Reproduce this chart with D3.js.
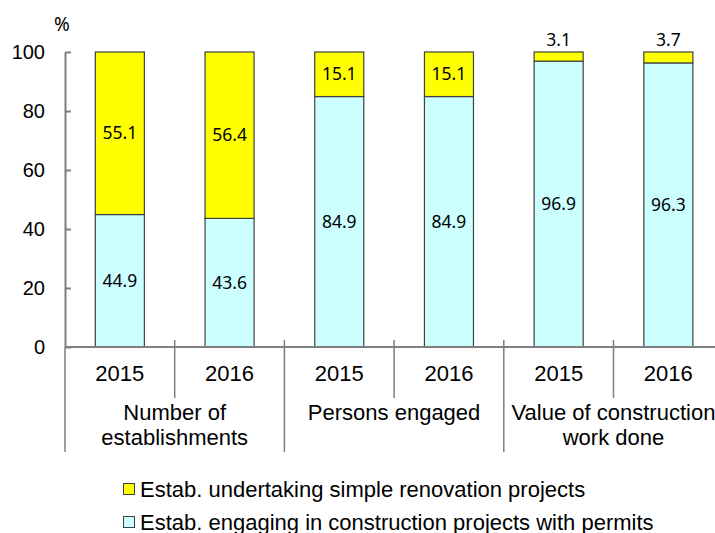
<!DOCTYPE html>
<html>
<head>
<meta charset="utf-8">
<script src="https://cdn.jsdelivr.net/npm/d3@7"></script>
<style>
body { margin: 0; background: #fff; }
svg text { font-family: "Liberation Sans", Arial, sans-serif; fill: #000; }
.val { font-family: "Noto Sans", "Open Sans", sans-serif; }
</style>
</head>
<body>
<div id="chart"></div>
<script>
// years under each bar
var years = ["2015", "2016", "2015", "2016", "2015", "2016"];

// groups of two bars
var groups = [
    ["Number of", "establishments"],
    ["Persons engaged"],
    ["Value of construction", "work done"]
];

// Estab. engaging in construction projects with permits
var permits = [44.9, 43.6, 84.9, 84.9, 96.9, 96.3];

// Estab. undertaking simple renovation projects
var renovation = [55.1, 56.4, 15.1, 15.1, 3.1, 3.7];

var yTicks = [0, 20, 40, 60, 80, 100];

var seriesNames = [
    "Estab. undertaking simple renovation projects",
    "Estab. engaging in construction projects with permits"
];

var width = 715,
    height = 533;

var plotLeft = 65,
    slot = 109.7,
    plotTop = 52,
    plotBottom = 347;

var svg = d3.select("#chart").append("svg")
    .attr("width", width)
    .attr("height", height);

var x = d3.scaleBand()
    .domain(d3.range(years.length))
    .range([plotLeft, plotLeft + slot * years.length])
    .paddingInner(0.553)
    .paddingOuter(0.2765);

var y = d3.scaleLinear()
    .domain([0, 100])
    .range([plotBottom, plotTop]);

var axisColor = "#7f7f7f";

// y axis
var yAxis = svg.append("g")
    .attr("transform", "translate(" + plotLeft + ",0)")
    .call(d3.axisRight(y).tickValues(yTicks).tickSize(6).tickSizeOuter(0).tickFormat(""));
yAxis.select(".domain").attr("stroke", axisColor).attr("stroke-width", 2);
yAxis.selectAll(".tick line").attr("stroke", axisColor).attr("stroke-width", 2);

svg.selectAll(".ytick")
    .data(yTicks)
    .enter().append("text")
    .attr("class", "ytick")
    .attr("x", 45)
    .attr("y", function (d) { return y(d) + 7; })
    .attr("text-anchor", "end")
    .style("font-size", "20px")
    .text(function (d) { return d; });

svg.append("text")
    .attr("class", "val")
    .attr("x", 54)
    .attr("y", 31)
    .style("font-size", "19px")
    .text("%");

// stacked bars
var rows = years.map(function (d, i) {
    return { i: i, permits: permits[i], renovation: renovation[i] };
});
var stack = d3.stack().keys(["permits", "renovation"]);
var layers = stack(rows);
var colors = { permits: "#ccffff", renovation: "#ffff00" };

layers.forEach(function (layer) {
    svg.append("g").selectAll("rect")
        .data(layer)
        .enter().append("rect")
        .attr("x", function (d) { return x(d.data.i); })
        .attr("width", x.bandwidth())
        .attr("y", function (d) { return y(d[1]); })
        .attr("height", function (d) { return y(d[0]) - y(d[1]); })
        .attr("fill", colors[layer.key])
        .attr("stroke", "#404040")
        .attr("stroke-width", 1.2);
});

// value labels
layers.forEach(function (layer) {
    svg.append("g").selectAll("text")
        .data(layer)
        .enter().append("text")
        .attr("class", "val")
        .attr("x", function (d) { return x(d.data.i) + x.bandwidth() / 2; })
        .attr("y", function (d) {
            var v = d[1] - d[0];
            if (v < 8) return y(d[1]) - 6;
            return y((d[0] + d[1]) / 2) + 6;
        })
        .attr("text-anchor", "middle")
        .style("font-size", "17.5px")
        .text(function (d) { return (d[1] - d[0]).toFixed(1); });
});

// baseline and category dividers
svg.append("line")
    .attr("x1", plotLeft).attr("x2", width)
    .attr("y1", plotBottom).attr("y2", plotBottom)
    .attr("stroke", axisColor).attr("stroke-width", 2);

d3.range(years.length + 1).forEach(function (k) {
    var xx = plotLeft + slot * k;
    var isGroup = k % 2 == 0;
    svg.append("line")
        .attr("x1", xx).attr("x2", xx)
        .attr("y1", k == 0 ? plotBottom : plotBottom - 7)
        .attr("y2", isGroup ? 452 : 398)
        .attr("stroke", axisColor).attr("stroke-width", 1.5);
});

svg.selectAll(".year")
    .data(years)
    .enter().append("text")
    .attr("class", "year")
    .attr("x", function (d, i) { return plotLeft + slot * (i + 0.5); })
    .attr("y", 381)
    .attr("text-anchor", "middle")
    .style("font-size", "22px")
    .text(function (d) { return d; });

groups.forEach(function (g, i) {
    var t = svg.append("text")
        .attr("x", plotLeft + slot * (i * 2 + 1))
        .attr("y", 420)
        .attr("text-anchor", "middle")
        .style("font-size", "22px");
    g.forEach(function (line, j) {
        t.append("tspan")
            .attr("x", plotLeft + slot * (i * 2 + 1))
            .attr("dy", j == 0 ? 0 : 25)
            .text(line);
    });
});

// legend
var legend = svg.append("g")
    .attr("transform", "translate(123,483)");
legend.selectAll("rect")
    .data(seriesNames)
    .enter().append("rect")
    .attr("x", 0.5)
    .attr("y", function (d, i) { return i * 33 + 0.5; })
    .attr("width", 11)
    .attr("height", 11)
    .attr("fill", function (d, i) { return i == 0 ? colors.renovation : colors.permits; })
    .attr("stroke", "#404040")
    .attr("stroke-width", 1);
legend.selectAll("text")
    .data(seriesNames)
    .enter().append("text")
    .attr("x", 17)
    .attr("y", function (d, i) { return i * 33 + 14; })
    .style("font-size", "22px")
    .text(function (d) { return d; });
</script>
</body>
</html>
